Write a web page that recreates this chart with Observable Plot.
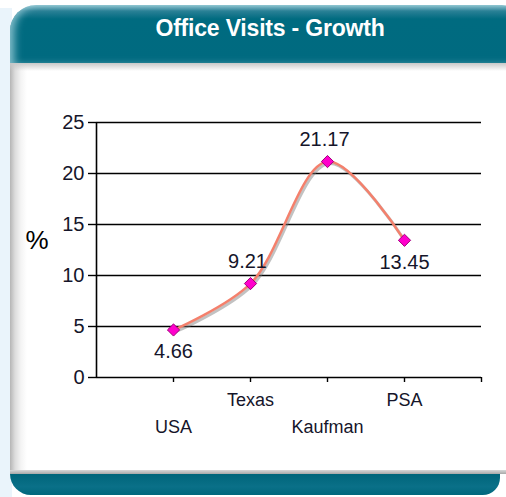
<!DOCTYPE html>
<html>
<head>
<meta charset="utf-8">
<script src="https://cdn.jsdelivr.net/npm/d3@7"></script>
<script src="https://cdn.jsdelivr.net/npm/@observablehq/plot@0.6"></script>
<style>
  html, body { margin: 0; padding: 0; background: #fff; }
  #card { position: relative; width: 506px; height: 497px; overflow: hidden; background: #fff; font-family: "Liberation Sans", Arial, sans-serif; }
  #bgleft { position: absolute; left: 0; top: 8px; width: 12px; height: 489px; background: #eaf4fb; }
  #header { position: absolute; left: 10px; top: 5px; width: 510px; height: 58px; border-radius: 26px 18px 0 0;
    background: linear-gradient(to bottom, #8cc3cf 0px, #2a8096 6px, #006b80 14px, #006a80 100%);
    box-shadow: inset 7px 0 8px -3px rgba(170,215,225,0.8); }
  #title { position: absolute; left: 0; top: 5px; width: 540px; height: 46px; line-height: 46px; text-align: center; color: #fff; font-weight: bold; font-size: 23px; letter-spacing: -0.2px; }
  #body { position: absolute; left: 10px; top: 63px; width: 500px; height: 408px;
    background: linear-gradient(to right, #b5b5b5 0px, #dcdcdc 5px, #f4f4f4 11px, #fff 17px); }
  #bodytop { position: absolute; left: 10px; top: 63px; width: 500px; height: 8px; background: linear-gradient(to bottom, #c8c8c8, rgba(255,255,255,0)); }
  #footline { position: absolute; left: 10px; top: 470px; width: 500px; height: 4px; background: linear-gradient(to bottom, #d8d8d8, #a8a8a8); }
  #footer { position: absolute; left: 10px; top: 474px; width: 490px; height: 21px; border-radius: 0 0 18px 22px;
    background: linear-gradient(to bottom, #00657a, #0a7088 60%, #00687d); }
  #plot { position: absolute; left: 0; top: 0; }
</style>
</head>
<body>
<div id="card">
  <div id="bgleft"></div>
  <div id="header"></div>
  <div id="title">Office Visits - Growth</div>
  <div id="body"></div>
  <div id="bodytop"></div>
  <div id="footline"></div>
  <div id="footer"></div>
  <div id="plot"></div>
</div>
<script>
const categories = ["USA", "Texas", "Kaufman", "PSA"];
const values = [4.66, 9.21, 21.17, 13.45];
const yTicks = [0, 5, 10, 15, 20, 25];
const xTicks = [1, 2, 3, 4, 5];
const labelsAbove = ["Texas", "Kaufman"];

const data = categories.map((c, i) => ({ cat: c, idx: i + 1, v: values[i] }));
const textColor = "#15152a";

const chart = Plot.plot({
  width: 506,
  height: 497,
  marginLeft: 96,
  marginRight: 25,
  marginTop: 122,
  marginBottom: 120,
  x: { domain: [0, 5], axis: null, label: null },
  y: { domain: [0, 25], axis: null, label: null },
  style: { background: "transparent", fontFamily: "'Liberation Sans', Arial, sans-serif", fontSize: "20px", color: textColor },
  marks: [
    Plot.ruleY(yTicks.filter(d => d > 0), { stroke: "#000", strokeWidth: 1.6 }),
    Plot.ruleY([0], { stroke: "#000", strokeWidth: 1.6 }),
    Plot.ruleX([0], { stroke: "#000", strokeWidth: 1.6 }),
    Plot.axisY({ ticks: yTicks, label: null, tickSize: 8, tickPadding: 4, tickFormat: d => String(d), stroke: "#000", strokeWidth: 1.4, fill: textColor, fontSize: 20 }),
    Plot.axisX({ ticks: xTicks, label: null, tickSize: 5, tickFormat: () => "", stroke: "#000", strokeWidth: 1.4 }),
    Plot.text(data.filter((d, i) => i % 2 === 1), { x: "idx", text: "cat", frameAnchor: "bottom", dy: 23, lineAnchor: "middle", fontSize: 18, fill: textColor }),
    Plot.text(data.filter((d, i) => i % 2 === 0), { x: "idx", text: "cat", frameAnchor: "bottom", dy: 50, lineAnchor: "middle", fontSize: 18, fill: textColor }),
    Plot.text(["%"], { frameAnchor: "left", dx: -71, dy: -9, fontSize: 26, fill: "#000", lineAnchor: "middle" }),
    Plot.line(data, { x: "idx", y: "v", curve: "catmull-rom", stroke: "#777", strokeOpacity: 0.45, strokeWidth: 3, dx: 1.5, dy: 2 }),
    Plot.line(data, { x: "idx", y: "v", curve: "catmull-rom", stroke: "#f4806c", strokeWidth: 2.5 }),
    Plot.dot(data, { x: "idx", y: "v", symbol: "diamond2", r: 5.5, fill: "#ff00cc", stroke: "#a0007a", strokeWidth: 1 }),
    Plot.text(data.filter(d => !labelsAbove.includes(d.cat)), { x: "idx", y: "v", text: d => d.v.toFixed(2), dy: 22, lineAnchor: "middle", fontSize: 20, fill: textColor }),
    Plot.text(data.filter(d => labelsAbove.includes(d.cat)), { x: "idx", y: "v", text: d => d.v.toFixed(2), dy: -22, dx: -3, lineAnchor: "middle", fontSize: 20, fill: textColor })
  ]
});
document.getElementById("plot").appendChild(chart);
</script>
</body>
</html>
